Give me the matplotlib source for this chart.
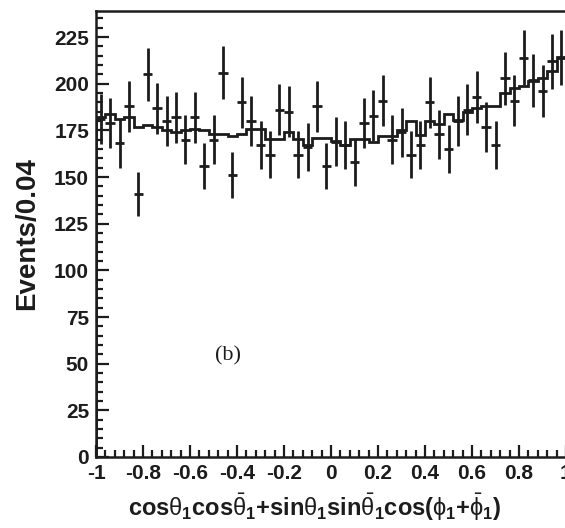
import numpy as np
import matplotlib
matplotlib.use("Agg")
import matplotlib.pyplot as plt
from matplotlib.ticker import MultipleLocator

plt.rcParams['font.family'] = ['Liberation Sans', 'DejaVu Sans']
plt.rcParams['mathtext.fontset'] = 'custom'
plt.rcParams['mathtext.rm'] = 'Liberation Sans'
plt.rcParams['mathtext.it'] = 'Liberation Sans'
plt.rcParams['mathtext.bf'] = 'Liberation Sans:bold'

# events per bin (bin width 0.04, from -1 to 1)
counts = [181, 179, 168, 188, 141, 205, 187, 180, 182, 170,
          182, 156, 170, 206, 151, 190, 180, 167, 162, 186,
          185, 162, 166, 188, 156, 169, 167, 158, 179, 183,
          191, 170, 174, 162, 167, 190, 173, 165, 180, 186,
          193, 177, 167, 203, 191, 214, 202, 196, 212, 214]

# fit curve (histogram)
fit = [182, 184, 181, 182, 177, 178, 177, 175, 174, 175,
       176, 175, 173, 173, 172, 173, 176, 176, 170.5, 170.5,
       174, 170.5, 167, 171, 171, 169.5, 167, 170.5, 170.5, 169,
       172, 172, 175, 180, 172.5, 180, 178.5, 184, 180.5, 185,
       187, 188, 188, 195, 197.5, 199, 201.5, 203, 207, 214.5]

edges = np.linspace(-1, 1, 51)
centers = 0.5 * (edges[:-1] + edges[1:])
errors = np.sqrt(counts)

col = '#1c1c1c'

fig = plt.figure(figsize=(5.65, 5.28), dpi=100)
ax = fig.add_axes([96 / 565, 71 / 528, 470 / 565, 446 / 528])

ax.stairs(fit, edges, color=col, linewidth=2.0)
ax.errorbar(centers, counts, yerr=errors, xerr=0.02, fmt='none',
            ecolor=col, elinewidth=2.0, capsize=0)

ax.set_xlim(-1, 1)
ax.set_ylim(0, 239)

ax.xaxis.set_major_locator(MultipleLocator(0.2))
ax.xaxis.set_minor_locator(MultipleLocator(0.04))
ax.yaxis.set_major_locator(MultipleLocator(25))
ax.yaxis.set_minor_locator(MultipleLocator(5))
ax.set_xticks(np.arange(-1, 1.01, 0.2))
ax.set_xticklabels(['-1', '-0.8', '-0.6', '-0.4', '-0.2', '0',
                    '0.2', '0.4', '0.6', '0.8', '1'])

ax.tick_params(which='both', direction='in', top=False, right=False,
               width=1.6, color=col, labelsize=15, labelcolor=col)
ax.tick_params(which='major', length=9, pad=5)
ax.tick_params(which='minor', length=5)
for lab in ax.get_xticklabels() + ax.get_yticklabels():
    lab.set_fontweight('bold')

for s in ax.spines.values():
    s.set_linewidth(1.8)
    s.set_color(col)

ax.set_ylabel('Events/0.04', fontsize=20, fontweight='bold', color=col,
              labelpad=10)

xlab = (r'$\mathbf{cos}\theta_{\mathbf{1}}\mathbf{cos}\bar{\theta}_{\mathbf{1}}'
        r'\mathbf{+sin}\theta_{\mathbf{1}}\mathbf{sin}\bar{\theta}_{\mathbf{1}}'
        r'\mathbf{cos(}\phi_{\mathbf{1}}\mathbf{+}\bar{\phi}_{\mathbf{1}}\mathbf{)}$')
fig.text(315 / 565, 1 - 507 / 528, xlab, fontsize=17, color=col,
         ha='center', va='center')

ax.text(-0.44, 54, '(b)', fontsize=16, family='Liberation Serif',
        color=col, ha='center', va='center')

fig.savefig('out.png', dpi=100)
